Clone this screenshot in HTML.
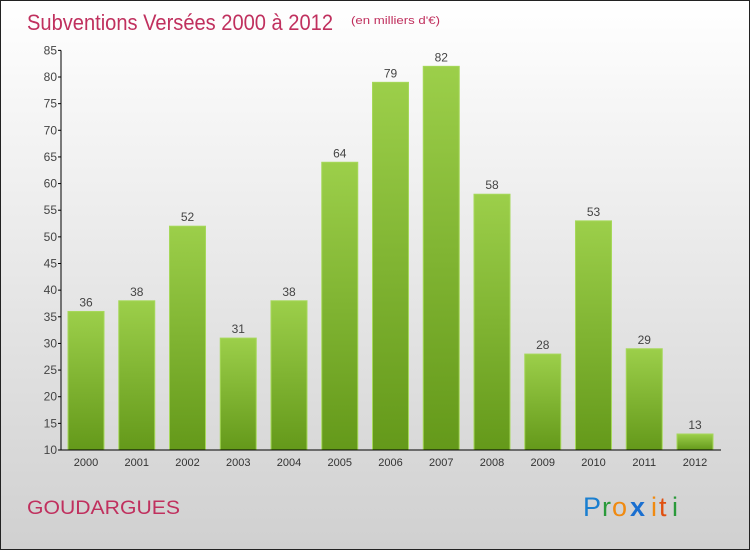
<!DOCTYPE html>
<html><head><meta charset="utf-8"><style>
body{margin:0;width:750px;height:550px;overflow:hidden;font-family:"Liberation Sans",sans-serif}
</style></head><body>
<svg width="750" height="550" xmlns="http://www.w3.org/2000/svg">
<defs>
<linearGradient id="bg" x1="0" y1="0" x2="0" y2="1"><stop offset="0" stop-color="#ffffff"/><stop offset="1" stop-color="#d0d0d0"/></linearGradient>
<linearGradient id="bar" x1="0" y1="0" x2="0" y2="1"><stop offset="0" stop-color="#9ccf4a"/><stop offset="1" stop-color="#64991a"/></linearGradient>
</defs>
<rect x="0.5" y="0.5" width="749" height="549" fill="url(#bg)" stroke="#222"/>
<text x="27" y="30" font-size="22" fill="#c0305e" textLength="306" lengthAdjust="spacingAndGlyphs">Subventions Versées 2000 à 2012</text>
<text x="351" y="24" font-size="11" fill="#c0305e" textLength="89" lengthAdjust="spacingAndGlyphs">(en milliers d'€)</text>
<g id="plot"></g>
<text x="27" y="514" font-size="19" fill="#c0305e" textLength="153" lengthAdjust="spacingAndGlyphs">GOUDARGUES</text>
<g font-size="27">
<text x="583" y="516" fill="#1a7fd0">P</text><text x="602" y="516" fill="#2a9a3a">r</text><text x="612" y="516" fill="#f08a10">o</text><text x="630" y="516" fill="#1a6fd0" font-weight="bold">x</text><text x="651" y="516" fill="#f08a10">i</text><text x="659" y="516" fill="#e05010">t</text><text x="672" y="516" fill="#2a9a3a">i</text>
</g>
</svg>
<script>
const years=["2000","2001","2002","2003","2004","2005","2006","2007","2008","2009","2010","2011","2012"];
const values=[36,38,52,31,38,64,79,82,58,28,53,29,13];
const yTicks=[10,15,20,25,30,35,40,45,50,55,60,65,70,75,80,85];
const NS="http://www.w3.org/2000/svg";
const g=document.getElementById('plot');
const y=v=>450-(v-10)*(373/70);
const x=i=>86+i*50.75;
function mk(t,a,txt){const e=document.createElementNS(NS,t);for(const k in a)e.setAttribute(k,a[k]);if(txt!==undefined)e.textContent=txt;g.appendChild(e);return e;}
values.forEach((v,i)=>{
 const r=mk('rect',{x:x(i)-18,y:y(v),width:36,height:450-y(v),fill:'url(#bar)',stroke:'#a6d85a','stroke-width':1});
 
 
 const t=mk('text',{x:x(i),y:y(v)-5,'text-anchor':'middle','font-size':12,fill:'#444'},v);
 
 
 const l=mk('text',{x:x(i),y:466,'text-anchor':'middle','font-size':11,fill:'#333'},years[i]);
 
 
});
const ya=mk('line',{x1:61,y1:y(85),x2:61,y2:450,stroke:'#000'});


const xa=mk('line',{x1:61,y1:450,x2:721,y2:450,stroke:'#000'});


yTicks.forEach(v=>{
 mk('line',{x1:58,y1:y(v),x2:61,y2:y(v),stroke:'#000'});
 const t=mk('text',{x:57,y:y(v)+4,'text-anchor':'end','font-size':12,fill:'#444'},v);
 
 
});
</script>
</body></html>
